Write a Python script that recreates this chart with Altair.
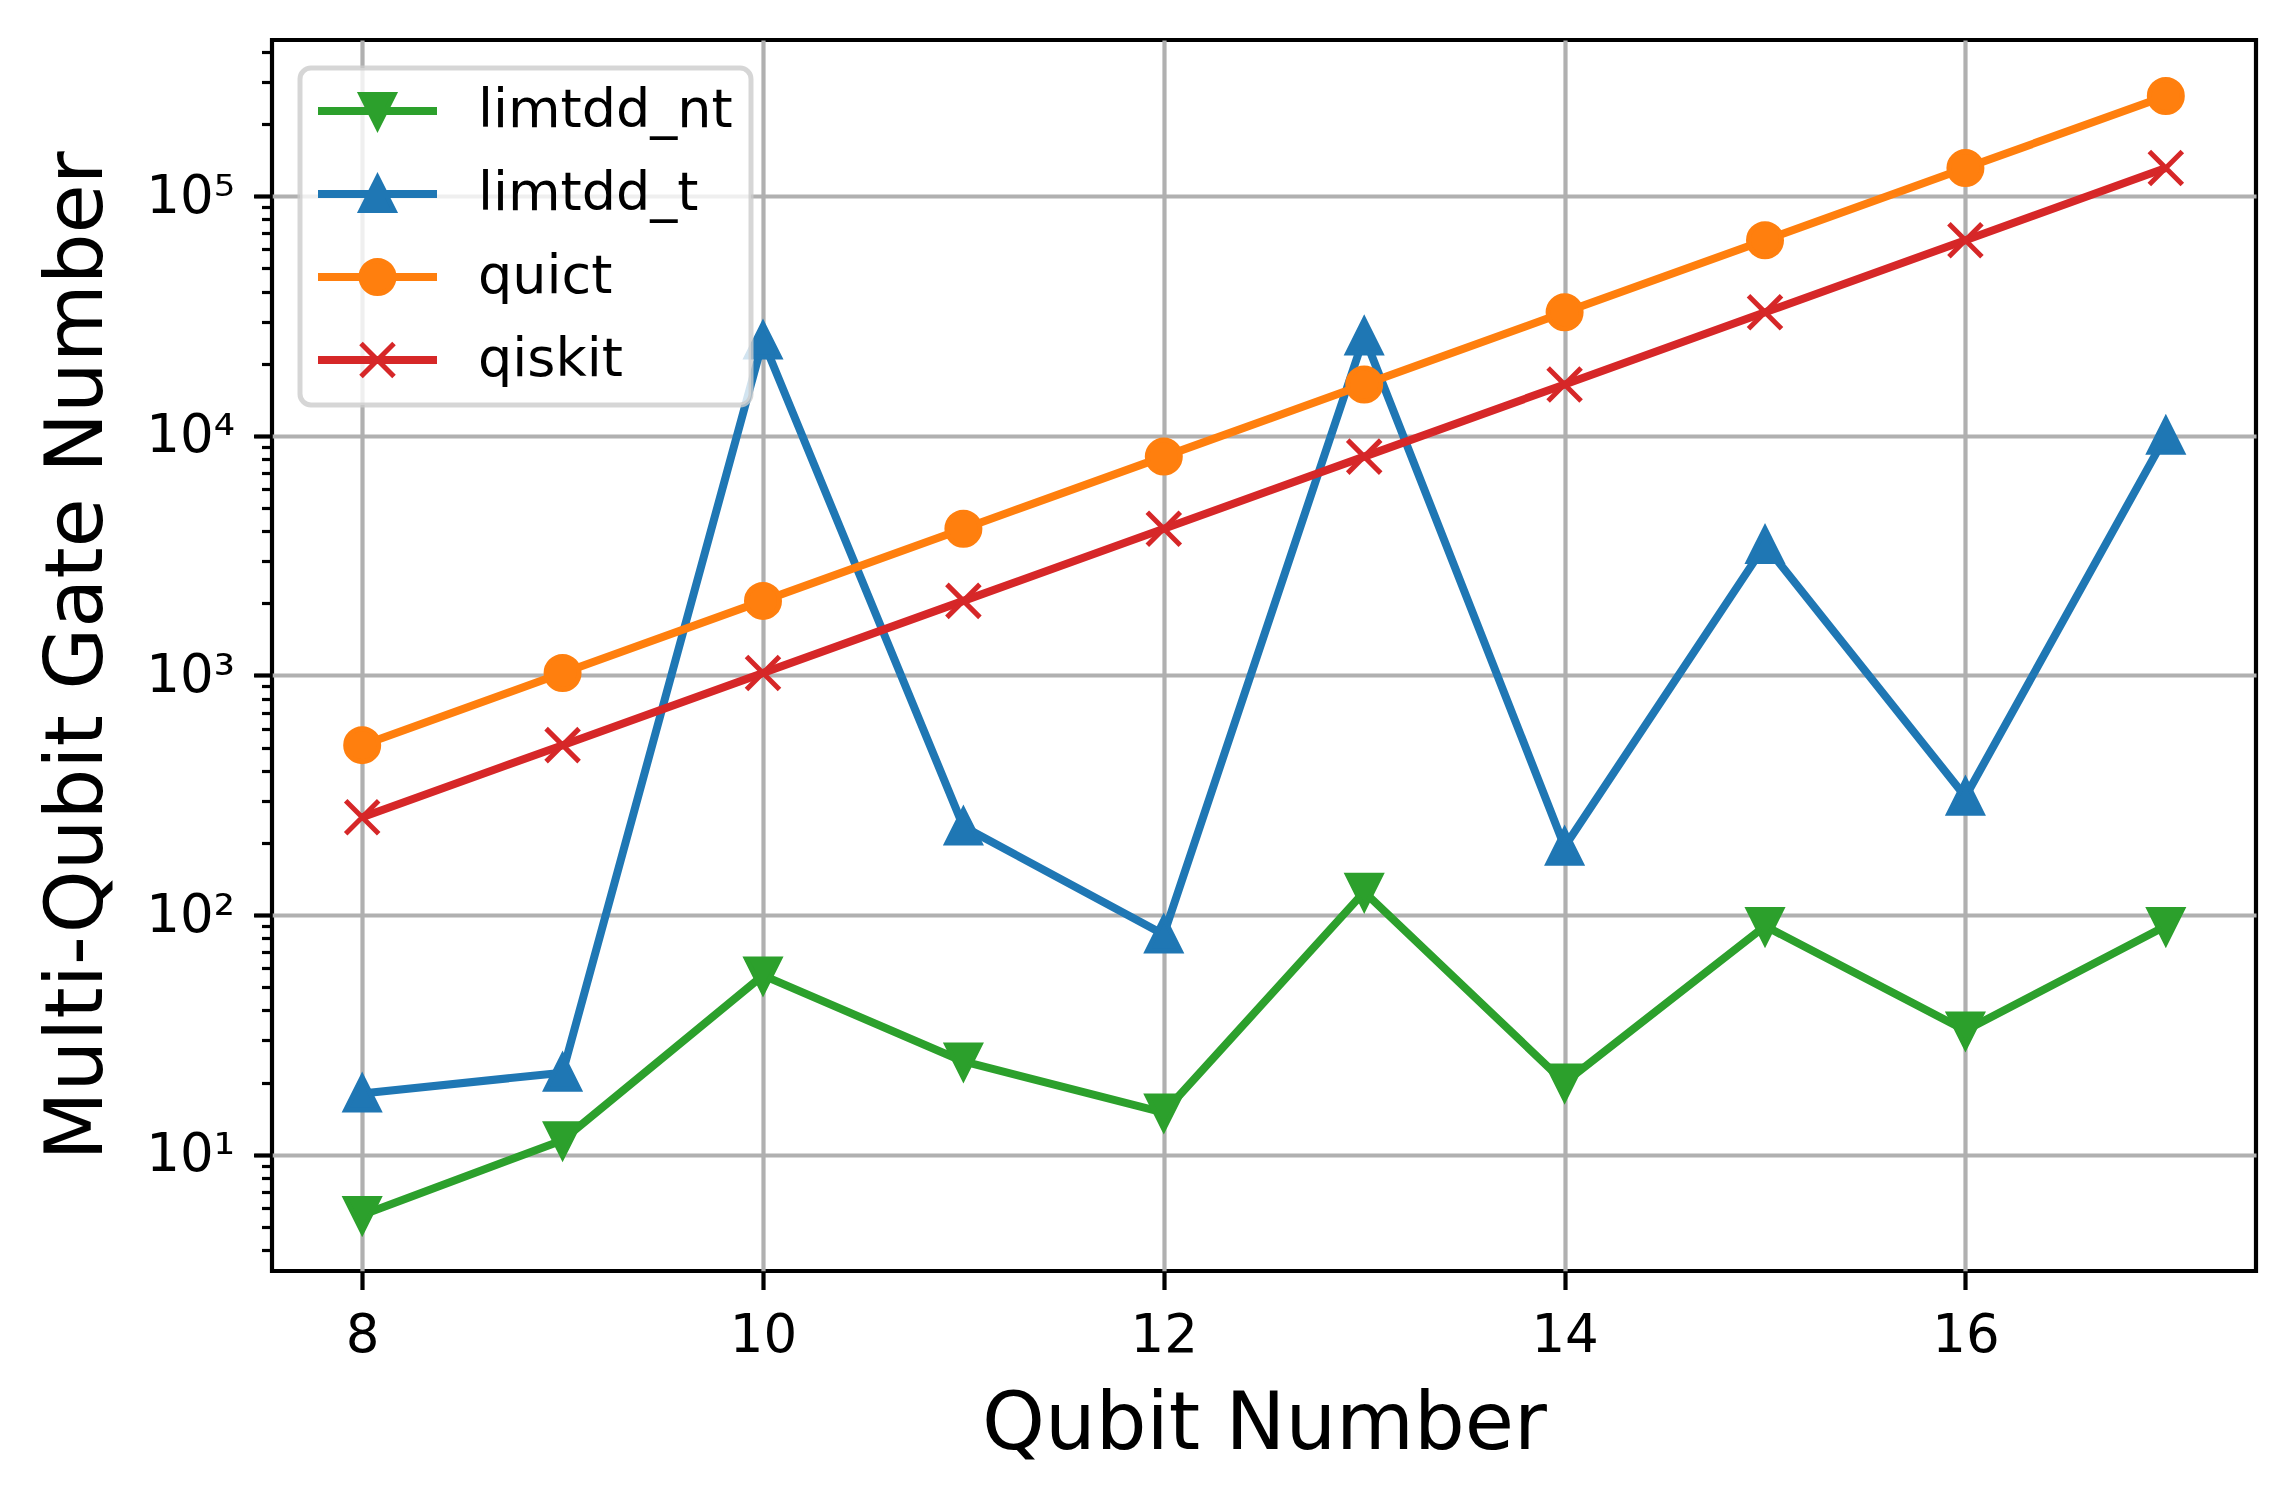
import math
import altair as alt
import pandas as pd

# ---- data ----
qubits = [8, 9, 10, 11, 12, 13, 14, 15, 16, 17]
limtdd_nt = [5.6, 11.5, 56, 24.5, 15, 125, 20, 90, 33, 90]
limtdd_t = [18, 22, 25000, 234, 83, 26000, 193, 3500, 312, 10000]
quict = [512, 1024, 2048, 4096, 8192, 16384, 32768, 65536, 131072, 262144]
qiskit = [256, 512, 1024, 2048, 4096, 8192, 16384, 32768, 65536, 131072]

series_names = ["limtdd_nt", "limtdd_t", "quict", "qiskit"]
series_colors = ["#2ca02c", "#1f77b4", "#ff7f0e", "#d62728"]
series_values = [limtdd_nt, limtdd_t, quict, qiskit]

x_ticks = [8, 10, 12, 14, 16]
y_ticks = [10, 100, 1000, 10000, 100000]

# matplotlib-like marker shapes (unit paths)
marker_paths = [
    "M0,1L-1,-1L1,-1Z",          # v
    "M0,-1L-1,1L1,1Z",           # ^
    "circle",                    # o
    "M-1,-1L1,1M-1,1L1,-1",      # x
]

# legend symbols: line segment + marker
r = 0.2895
bar = "M-1,-0.0263H1V0.0263H-1Z"
legend_paths = [
    bar + f"M0,{r}L{-r},{-r}L{r},{-r}Z",
    bar + f"M0,{-r}L{-r},{r}L{r},{r}Z",
    bar + f"M{r},0A{r},{r},0,1,1,{-r},0A{r},{r},0,1,1,{r},0Z",
    bar + f"M{-r},{-r}L{r},{r}M{-r},{r}L{r},{-r}",
]

rows = []
for si, (name, vals) in enumerate(zip(series_names, series_values)):
    for q, v in zip(qubits, vals):
        rows.append({"qubits": q, "gates": v, "series": name, "sidx": si})
df = pd.DataFrame(rows)

allv = limtdd_nt + limtdd_t + quict + qiskit
lo, hi = math.log10(min(allv)), math.log10(max(allv))
pad = 0.05 * (hi - lo)
y_domain = [10 ** (lo - pad), 10 ** (hi + pad)]
xpad = 0.05 * (max(qubits) - min(qubits))
x_domain = [min(qubits) - xpad, max(qubits) + xpad]

minor_ticks = [m * 10 ** k for k in range(0, 7) for m in range(2, 10)
               if y_domain[0] <= m * 10 ** k <= y_domain[1]]

W, H = 1984, 1231
MARKER_SIZE = 1089
LEG_SIZE = 12996

x_axis = alt.Axis(values=x_ticks, format="d", title="Qubit Number", grid=True,
                  labelFlush=False)
x_enc = alt.X("qubits:Q", scale=alt.Scale(domain=x_domain, nice=False, zero=False),
              axis=x_axis)
y_scale = alt.Scale(type="log", domain=y_domain, nice=False)

sup = "['\u2070','\u00b9','\u00b2','\u00b3','\u2074','\u2075','\u2076']"
y_main = alt.Y("gates:Q", scale=y_scale,
               axis=alt.Axis(values=y_ticks, orient="left", grid=True,
                             labelExpr="'10' + " + sup + "[round(log(datum.value)/LN10)]",
                             title="Multi-Qubit Gate Number", labelFlush=False))
y_minor = alt.Y("gates:Q", scale=y_scale,
                axis=alt.Axis(values=minor_ticks, orient="left", labels=False,
                              tickSize=10.5, tickWidth=3.2, grid=False,
                              domain=False, title=None))

color_scale = alt.Scale(domain=series_names, range=series_colors)

lines = alt.Chart(df).mark_line(strokeWidth=8, strokeJoin="round").encode(
    x=x_enc, y=y_main,
    color=alt.Color("series:N", scale=color_scale, legend=None),
    order="qubits:Q",
)

points = alt.Chart(df).mark_point(filled=True, opacity=1, size=MARKER_SIZE,
                                  strokeWidth=5).encode(
    x=x_enc,
    y=alt.Y("gates:Q", scale=y_scale, axis=None),
    color=alt.Color("series:N", scale=color_scale, legend=None),
    stroke=alt.Stroke("series:N", scale=color_scale, legend=None),
    shape=alt.Shape("series:N", scale=alt.Scale(domain=series_names, range=marker_paths),
                    legend=None),
)

leg = alt.Legend(title=None, orient="none", legendX=28, legendY=28,
                 symbolSize=LEG_SIZE, symbolStrokeWidth=5, clipHeight=50,
                 rowPadding=29, padding=18, labelOffset=41, symbolOffset=0,
                 labelFontSize=54, labelFont="DejaVu Sans", labelColor="black",
                 labelLimit=1000, fillColor="rgba(255,255,255,0.8)",
                 strokeColor="rgba(204,204,204,0.8)", cornerRadius=11)

legend_layer = alt.Chart(df).transform_filter("false").mark_point(
    filled=True, opacity=1, size=LEG_SIZE, strokeWidth=5).encode(
    x=x_enc, y=y_minor,
    color=alt.Color("series:N", scale=color_scale, legend=leg),
    stroke=alt.Stroke("series:N", scale=color_scale, legend=leg),
    shape=alt.Shape("series:N", scale=alt.Scale(domain=series_names, range=legend_paths),
                    legend=leg),
)

chart = alt.layer(lines, points, legend_layer).resolve_scale(
    color="independent", shape="independent", stroke="independent"
).resolve_axis(y="independent").properties(
    width=W, height=H,
    autosize=alt.AutoSizeParams(type="none"),
    padding={"left": 264, "top": 32, "right": 32, "bottom": 220},
    background="white",
).configure_view(
    stroke="black", strokeWidth=4.2
).configure_axis(
    labelFont="DejaVu Sans", labelFontSize=53, labelColor="black",
    titleFont="DejaVu Sans", titleFontSize=80, titleFontWeight="normal",
    titleColor="black", tickColor="black", tickWidth=4.2, tickSize=18.5,
    domain=False, gridColor="#b0b0b0", gridWidth=4.2, gridOpacity=1,
    labelPadding=19,
).configure_axisX(
    labelPadding=20, titlePadding=23
).configure_axisY(
    titlePadding=27
).configure_legend(
    strokeWidth=5
)

chart.save("out.html", embed_options={"renderer": "svg", "actions": False})
